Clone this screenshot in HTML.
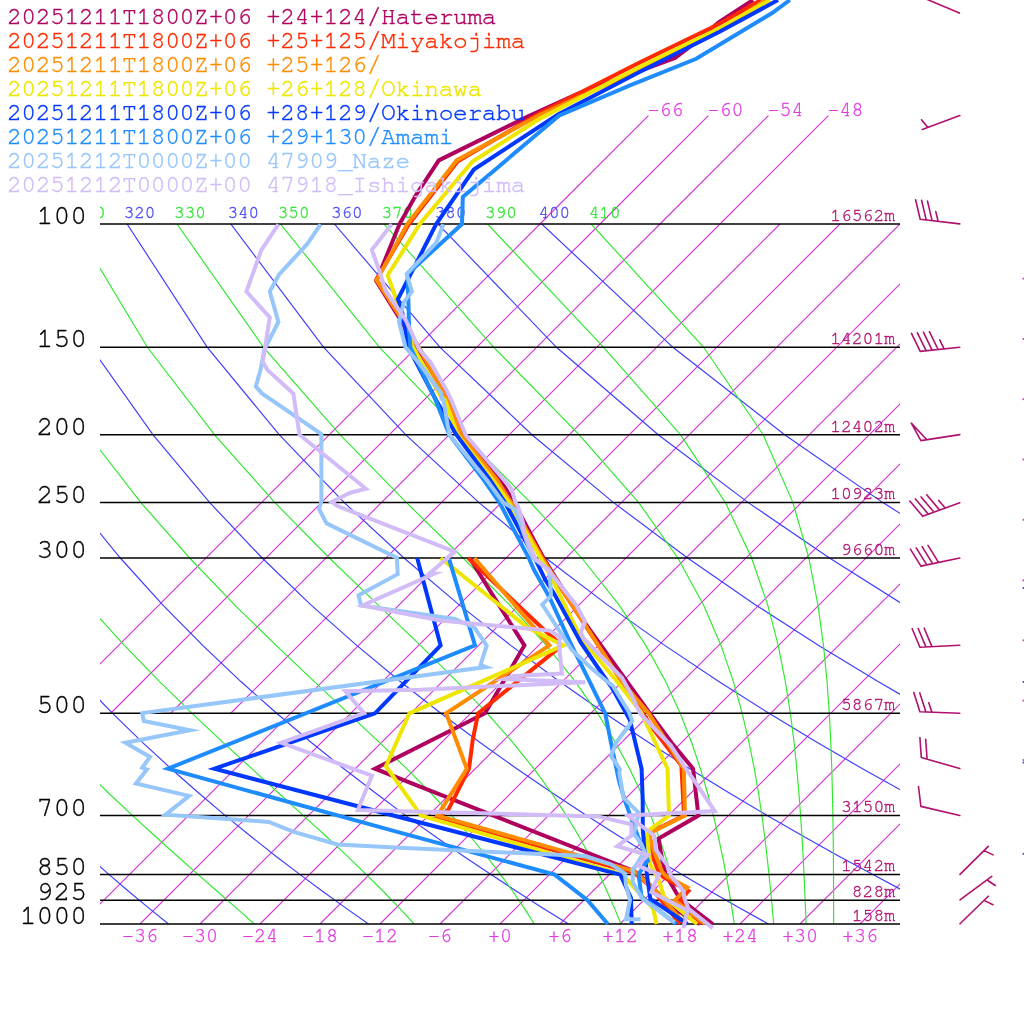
<!DOCTYPE html><html><head><meta charset="utf-8"><title>Skew-T</title><style>html,body{margin:0;padding:0;background:#fff;width:1024px;height:1024px;overflow:hidden}svg{display:block}</style></head><body>
<svg width="1024" height="1024" viewBox="0 0 1024 1024" font-family="FreeMono, 'Liberation Mono', 'Courier New', monospace">
<rect width="1024" height="1024" fill="#fff"/>
<defs><clipPath id="c"><rect x="100" y="0" width="800" height="924"/></clipPath><clipPath id="c2"><rect x="100" y="224" width="800" height="700"/></clipPath></defs>
<g clip-path="url(#c2)"><path d="M80.00 924L779.99 224M140.00 924L839.99 224M200.00 924L899.99 224M260.00 924L959.99 224M320.00 924L1019.99 224M380.00 924L1079.99 224M440.00 924L1139.99 224M500.00 924L1199.99 224M560.00 924L1259.99 224M620.00 924L1319.99 224M680.00 924L1379.99 224M740.00 924L1439.99 224M800.00 924L1499.99 224M860.00 924L1559.99 224M50.72 713.28L539.99 224M110.72 713.28L599.99 224M170.72 713.28L659.99 224M230.72 713.28L719.99 224" stroke="#d632d6" stroke-width="1.15" fill="none"/>
<path d="M168.5 924.0L149.2 908.4L129.4 892.0L109.1 874.6L88.3 856.2L66.8 836.5L44.6 815.6L21.8 793.0L-1.8 768.7L-26.2 742.3L-51.5 713.3L-77.9 681.3L-105.2 645.4L-133.7 604.9L-163.4 558.0L-194.3 502.6L-226.1 434.7L-258.2 347.3L-287.5 224.0M368.5 924.0L346.3 908.4L323.5 892.0L300.1 874.6L275.9 856.2L251.0 836.5L225.3 815.6L198.7 793.0L171.1 768.7L142.4 742.3L112.6 713.3L81.4 681.3L48.8 645.4L14.5 604.9L-21.6 558.0L-59.6 502.6L-99.8 434.7L-141.8 347.3L-183.9 224.0M568.5 924.0L543.4 908.4L517.6 892.0L491.0 874.6L463.6 856.2L435.2 836.5L405.9 815.6L375.5 793.0L343.9 768.7L311.0 742.3L276.7 713.3L240.6 681.3L202.7 645.4L162.7 604.9L120.3 558.0L75.0 502.6L26.5 434.7L-25.4 347.3L-80.2 224.0M768.5 924.0L740.5 908.4L711.7 892.0L681.9 874.6L651.2 856.2L619.5 836.5L586.6 815.6L552.4 793.0L516.8 768.7L479.7 742.3L440.8 713.3L399.9 681.3L356.7 645.4L310.9 604.9L262.1 558.0L209.7 502.6L152.9 434.7L91.0 347.3L23.5 224.0M968.5 924.0L937.6 908.4L905.7 892.0L872.9 874.6L838.9 856.2L803.7 836.5L767.2 815.6L729.3 793.0L689.7 768.7L648.3 742.3L604.9 713.3L559.1 681.3L510.7 645.4L459.2 604.9L404.0 558.0L344.3 502.6L279.2 434.7L207.3 347.3L127.1 224.0M1168.5 924.0L1134.7 908.4L1099.8 892.0L1063.8 874.6L1026.6 856.2L988.0 836.5L947.9 815.6L906.1 793.0L862.5 768.7L816.9 742.3L769.0 713.3L718.4 681.3L664.7 645.4L607.4 604.9L545.8 558.0L479.0 502.6L405.6 434.7L323.7 347.3L230.8 224.0M1368.5 924.0L1331.8 908.4L1293.9 892.0L1254.7 874.6L1214.2 856.2L1172.2 836.5L1128.5 815.6L1083.0 793.0L1035.4 768.7L985.5 742.3L933.1 713.3L877.6 681.3L818.7 645.4L755.6 604.9L687.6 558.0L613.6 502.6L531.9 434.7L440.1 347.3L334.4 224.0M1568.5 924.0L1528.9 908.4L1488.0 892.0L1445.7 874.6L1401.9 856.2L1356.4 836.5L1309.1 815.6L1259.8 793.0L1208.3 768.7L1154.2 742.3L1097.2 713.3L1036.8 681.3L972.6 645.4L903.8 604.9L829.5 558.0L748.3 502.6L658.2 434.7L556.5 347.3L438.1 224.0M1768.5 924.0L1726.0 908.4L1682.0 892.0L1636.6 874.6L1589.5 856.2L1540.7 836.5L1489.8 815.6L1436.7 793.0L1381.1 768.7L1322.8 742.3L1261.3 713.3L1196.1 681.3L1126.6 645.4L1052.0 604.9L971.3 558.0L882.9 502.6L784.6 434.7L672.9 347.3L541.8 224.0" stroke="#3c3cff" stroke-width="1.15" fill="none"/>
<path d="M-237.2 224.0L-201.4 347.3L-164.2 434.7L-128.1 502.6L-93.5 558.0L-60.6 604.9L-29.1 645.4L0.9 681.3L29.6 713.3L57.0 742.3L83.3 768.7L108.5 793.0L132.6 815.6L155.5 836.5L177.4 856.2L198.2 874.6L218.0 892.0L236.7 908.4L254.3 924.0M-133.6 224.0L-85.1 347.3L-38.0 434.7L6.4 502.6L48.2 558.0L87.4 604.9L124.4 645.4L159.3 681.3L192.1 713.3L222.9 742.3L251.8 768.7L278.6 793.0L303.4 815.6L326.3 836.5L347.3 856.2L366.4 874.6L383.9 892.0L399.7 908.4L414.2 924.0M-30.1 224.0L31.2 347.3L88.2 434.7L140.9 502.6L189.6 558.0L234.6 604.9L276.1 645.4L314.1 681.3L348.5 713.3L379.3 742.3L406.7 768.7L430.8 793.0L451.9 815.6L470.3 836.5L486.5 856.2L500.7 874.6L513.3 892.0L524.4 908.4L534.3 924.0M73.4 224.0L147.4 347.3L214.4 434.7L274.9 502.6L329.4 558.0L378.0 604.9L420.4 645.4L456.7 681.3L487.2 713.3L512.7 742.3L533.9 768.7L551.6 793.0L566.5 815.6L579.1 836.5L589.9 856.2L599.3 874.6L607.4 892.0L614.6 908.4L620.9 924.0M177.0 224.0L263.6 347.3L339.9 434.7L406.5 502.6L463.1 558.0L509.5 604.9L546.3 645.4L575.1 681.3L597.6 713.3L615.3 742.3L629.6 768.7L641.1 793.0L650.7 815.6L658.7 836.5L665.5 856.2L671.4 874.6L676.5 892.0L681.0 908.4L685.0 924.0M280.5 224.0L379.5 347.3L463.1 434.7L530.6 502.6L581.8 558.0L619.0 604.9L645.8 645.4L665.5 681.3L680.2 713.3L691.5 742.3L700.4 768.7L707.6 793.0L713.4 815.6L718.3 836.5L722.5 856.2L726.1 874.6L729.2 892.0L731.9 908.4L734.3 924.0M384.1 224.0L493.8 347.3L579.0 434.7L638.7 502.6L677.8 558.0L703.5 604.9L721.0 645.4L733.3 681.3L742.2 713.3L749.0 742.3L754.3 768.7L758.5 793.0L761.9 815.6L764.7 836.5L767.0 856.2L769.0 874.6L770.8 892.0L772.3 908.4L773.7 924.0M487.6 224.0L603.6 347.3L680.4 434.7L725.4 502.6L751.6 558.0L767.7 604.9L778.2 645.4L785.3 681.3L790.4 713.3L794.1 742.3L796.8 768.7L798.9 793.0L800.6 815.6L802.0 836.5L803.1 856.2L804.0 874.6L804.8 892.0L805.5 908.4L806.1 924.0M591.2 224.0L703.7 347.3L763.2 434.7L792.9 502.6L808.8 558.0L817.9 604.9L823.5 645.4L827.0 681.3L829.3 713.3L830.8 742.3L831.8 768.7L832.4 793.0L832.9 815.6L833.2 836.5L833.4 856.2L833.5 874.6L833.6 892.0L833.6 908.4L833.7 924.0" stroke="#2ee82e" stroke-width="1.15" fill="none"/>
</g>
<path d="M539.99 224L648.42 115.58M599.99 224L708.42 115.58M659.99 224L768.42 115.58M719.99 224L828.42 115.58" stroke="#d632d6" stroke-width="1.15" fill="none"/>
<text x="647.6" y="116.1" font-size="20" fill="#e03ce0" stroke="#e03ce0" stroke-width="0.35">-66</text>
<text x="707.6" y="116.1" font-size="20" fill="#e03ce0" stroke="#e03ce0" stroke-width="0.35">-60</text>
<text x="767.6" y="116.1" font-size="20" fill="#e03ce0" stroke="#e03ce0" stroke-width="0.35">-54</text>
<text x="827.6" y="116.1" font-size="20" fill="#e03ce0" stroke="#e03ce0" stroke-width="0.35">-48</text>
<g clip-path="url(#c)">
<text x="74.0" y="217.5" font-size="17.6" fill="#30e830" stroke="#30e830" stroke-width="0.35">310</text>
<text x="123.7" y="217.5" font-size="17.6" fill="#4848ff" stroke="#4848ff" stroke-width="0.35">320</text>
<text x="174.1" y="217.5" font-size="17.6" fill="#30e830" stroke="#30e830" stroke-width="0.35">330</text>
<text x="227.4" y="217.5" font-size="17.6" fill="#4848ff" stroke="#4848ff" stroke-width="0.35">340</text>
<text x="277.8" y="217.5" font-size="17.6" fill="#30e830" stroke="#30e830" stroke-width="0.35">350</text>
<text x="331.0" y="217.5" font-size="17.6" fill="#4848ff" stroke="#4848ff" stroke-width="0.35">360</text>
<text x="381.5" y="217.5" font-size="17.6" fill="#30e830" stroke="#30e830" stroke-width="0.35">370</text>
<text x="434.7" y="217.5" font-size="17.6" fill="#4848ff" stroke="#4848ff" stroke-width="0.35">380</text>
<text x="485.1" y="217.5" font-size="17.6" fill="#30e830" stroke="#30e830" stroke-width="0.35">390</text>
<text x="538.4" y="217.5" font-size="17.6" fill="#4848ff" stroke="#4848ff" stroke-width="0.35">400</text>
<text x="588.8" y="217.5" font-size="17.6" fill="#30e830" stroke="#30e830" stroke-width="0.35">410</text>
</g>
<line x1="100" y1="224.01" x2="900" y2="224.01" stroke="#000" stroke-width="1.5"/>
<text x="87" y="224.0" font-size="28" text-anchor="end" fill="#000" stroke="#000" stroke-width="0.35">100</text>
<line x1="100" y1="347.28" x2="900" y2="347.28" stroke="#000" stroke-width="1.5"/>
<text x="87" y="347.3" font-size="28" text-anchor="end" fill="#000" stroke="#000" stroke-width="0.35">150</text>
<line x1="100" y1="434.73" x2="900" y2="434.73" stroke="#000" stroke-width="1.5"/>
<text x="87" y="434.7" font-size="28" text-anchor="end" fill="#000" stroke="#000" stroke-width="0.35">200</text>
<line x1="100" y1="502.57" x2="900" y2="502.57" stroke="#000" stroke-width="1.5"/>
<text x="87" y="502.6" font-size="28" text-anchor="end" fill="#000" stroke="#000" stroke-width="0.35">250</text>
<line x1="100" y1="557.99" x2="900" y2="557.99" stroke="#000" stroke-width="1.5"/>
<text x="87" y="558.0" font-size="28" text-anchor="end" fill="#000" stroke="#000" stroke-width="0.35">300</text>
<line x1="100" y1="713.28" x2="900" y2="713.28" stroke="#000" stroke-width="1.5"/>
<text x="87" y="713.3" font-size="28" text-anchor="end" fill="#000" stroke="#000" stroke-width="0.35">500</text>
<line x1="100" y1="815.57" x2="900" y2="815.57" stroke="#000" stroke-width="1.5"/>
<text x="87" y="815.6" font-size="28" text-anchor="end" fill="#000" stroke="#000" stroke-width="0.35">700</text>
<line x1="100" y1="874.59" x2="900" y2="874.59" stroke="#000" stroke-width="1.5"/>
<text x="87" y="874.6" font-size="28" text-anchor="end" fill="#000" stroke="#000" stroke-width="0.35">850</text>
<line x1="100" y1="900.30" x2="900" y2="900.30" stroke="#000" stroke-width="1.5"/>
<text x="87" y="900.3" font-size="28" text-anchor="end" fill="#000" stroke="#000" stroke-width="0.35">925</text>
<line x1="100" y1="924.00" x2="900" y2="924.00" stroke="#000" stroke-width="1.5"/>
<text x="87" y="924.0" font-size="28" text-anchor="end" fill="#000" stroke="#000" stroke-width="0.35">1000</text>
<text x="895" y="220.8" font-size="18" text-anchor="end" fill="#b0106e" stroke="#b0106e" stroke-width="0.35">16562m</text>
<text x="895" y="344.1" font-size="18" text-anchor="end" fill="#b0106e" stroke="#b0106e" stroke-width="0.35">14201m</text>
<text x="895" y="431.5" font-size="18" text-anchor="end" fill="#b0106e" stroke="#b0106e" stroke-width="0.35">12402m</text>
<text x="895" y="499.4" font-size="18" text-anchor="end" fill="#b0106e" stroke="#b0106e" stroke-width="0.35">10923m</text>
<text x="895" y="554.8" font-size="18" text-anchor="end" fill="#b0106e" stroke="#b0106e" stroke-width="0.35">9660m</text>
<text x="895" y="710.1" font-size="18" text-anchor="end" fill="#b0106e" stroke="#b0106e" stroke-width="0.35">5867m</text>
<text x="895" y="812.4" font-size="18" text-anchor="end" fill="#b0106e" stroke="#b0106e" stroke-width="0.35">3150m</text>
<text x="895" y="871.4" font-size="18" text-anchor="end" fill="#b0106e" stroke="#b0106e" stroke-width="0.35">1542m</text>
<text x="895" y="897.1" font-size="18" text-anchor="end" fill="#b0106e" stroke="#b0106e" stroke-width="0.35">828m</text>
<text x="895" y="920.8" font-size="18" text-anchor="end" fill="#b0106e" stroke="#b0106e" stroke-width="0.35">158m</text>
<text x="140.0" y="942" font-size="20" text-anchor="middle" fill="#e03ce0" stroke="#e03ce0" stroke-width="0.35">-36</text>
<text x="200.0" y="942" font-size="20" text-anchor="middle" fill="#e03ce0" stroke="#e03ce0" stroke-width="0.35">-30</text>
<text x="260.0" y="942" font-size="20" text-anchor="middle" fill="#e03ce0" stroke="#e03ce0" stroke-width="0.35">-24</text>
<text x="320.0" y="942" font-size="20" text-anchor="middle" fill="#e03ce0" stroke="#e03ce0" stroke-width="0.35">-18</text>
<text x="380.0" y="942" font-size="20" text-anchor="middle" fill="#e03ce0" stroke="#e03ce0" stroke-width="0.35">-12</text>
<text x="440.0" y="942" font-size="20" text-anchor="middle" fill="#e03ce0" stroke="#e03ce0" stroke-width="0.35">-6</text>
<text x="500.0" y="942" font-size="20" text-anchor="middle" fill="#e03ce0" stroke="#e03ce0" stroke-width="0.35">+0</text>
<text x="560.0" y="942" font-size="20" text-anchor="middle" fill="#e03ce0" stroke="#e03ce0" stroke-width="0.35">+6</text>
<text x="620.0" y="942" font-size="20" text-anchor="middle" fill="#e03ce0" stroke="#e03ce0" stroke-width="0.35">+12</text>
<text x="680.0" y="942" font-size="20" text-anchor="middle" fill="#e03ce0" stroke="#e03ce0" stroke-width="0.35">+18</text>
<text x="740.0" y="942" font-size="20" text-anchor="middle" fill="#e03ce0" stroke="#e03ce0" stroke-width="0.35">+24</text>
<text x="800.0" y="942" font-size="20" text-anchor="middle" fill="#e03ce0" stroke="#e03ce0" stroke-width="0.35">+30</text>
<text x="860.0" y="942" font-size="20" text-anchor="middle" fill="#e03ce0" stroke="#e03ce0" stroke-width="0.35">+36</text>
<g fill="none" stroke-width="4" stroke-linejoin="miter" stroke-miterlimit="10">
<path d="M753.0 0.0L719.0 22.0L687.0 49.0L675.0 58.0L577.0 94.2L527.7 116.6L438.8 160.4L416.0 195.0L399.5 224.0L381.1 269.5L376.3 281.0L398.7 317.0L448.8 400.0L463.8 434.7L500.4 480.0L514.0 502.6L543.5 558.0L555.2 577.0L585.6 623.9L648.6 711.6L672.0 743.3L693.1 768.7L698.4 815.6L658.6 838.6L660.9 852.7L665.6 874.6L679.6 898.5L712.8 924.0" stroke="#b0005e"/>
<path d="M469.7 558.0L496.3 600.9L524.4 645.4L485.0 713.3L375.0 768.7L420.0 786.6L634.4 871.2L639.5 874.6L657.1 892.0L668.0 905.0L700.0 924.0" stroke="#b0005e"/>
<path d="M761.0 0.0L719.0 24.0L640.0 62.4L577.0 94.2L540.0 113.0L457.5 161.5L409.0 224.0L376.3 279.7L399.0 315.0L421.0 351.0L448.0 400.0L461.0 434.7L496.0 480.0L511.0 502.6L542.5 558.0L553.0 576.0L585.0 625.0L653.3 729.2L681.4 765.6L684.0 815.6L649.0 833.0L647.0 836.5L650.5 851.0L658.5 871.5L663.0 877.0L688.4 891.0L679.6 900.3L701.0 924.0" stroke="#ff2a00"/>
<path d="M468.1 558.0L541.6 627.5L561.9 645.4L478.1 713.3L472.7 740.0L469.0 768.7L448.0 810.3L437.5 817.0L634.4 873.2L650.0 886.0L680.0 924.0" stroke="#ff2a00"/>
<path d="M766.0 0.0L720.0 30.0L640.0 69.5L540.0 114.7L456.6 160.4L407.3 224.0L376.7 280.1L398.7 314.4L421.0 351.0L447.0 400.0L461.0 434.7L497.0 480.0L511.0 502.6L542.0 558.0L552.8 574.7L620.5 680.0L648.6 713.3L683.8 768.7L685.0 815.6L652.7 831.6L649.5 836.0L654.0 851.0L662.0 871.5L666.0 876.0L687.4 887.6L674.7 900.3L705.0 924.0" stroke="#ff8c00"/>
<path d="M474.4 558.0L549.4 645.4L446.1 713.3L466.8 768.7L437.5 815.6L634.4 871.2L655.0 890.0L685.0 924.0" stroke="#ff8c00"/>
<path d="M770.0 0.0L720.0 28.0L640.0 66.8L540.0 118.6L472.2 161.7L419.8 224.0L387.7 275.3L396.0 298.6L413.2 347.3L440.5 396.0L445.0 400.0L457.5 434.7L493.0 480.0L509.0 502.6L540.5 558.0L549.3 573.5L580.9 638.0L615.8 680.0L641.0 712.0L667.5 768.7L668.5 800.0L669.1 815.6L650.4 829.2L646.9 833.9L650.3 864.6L659.0 880.3L664.0 896.9L697.1 924.0" stroke="#eee600"/>
<path d="M440.6 558.0L527.5 627.5L563.4 645.4L409.4 713.3L385.9 766.2L421.1 815.6L622.6 874.6L653.2 908.6L656.6 924.0" stroke="#eee600"/>
<path d="M778.0 0.0L720.0 31.5L640.0 71.7L558.0 114.5L473.8 169.5L436.2 224.0L397.8 299.4L401.3 307.3L408.3 347.3L436.0 400.0L456.3 434.7L490.0 480.0L505.0 502.6L534.7 558.0L545.4 580.0L554.0 593.4L580.9 642.7L606.4 680.0L612.3 688.2L629.8 719.8L641.6 768.7L642.7 800.0L642.8 829.2L644.5 850.3L646.9 874.6L650.3 898.8L687.4 924.0" stroke="#0038ff"/>
<path d="M417.2 558.0L440.6 645.4L375.0 713.3L214.4 768.7L400.0 817.3L620.3 874.6L631.0 898.0L631.7 924.0" stroke="#0038ff"/>
<path d="M789.9 0.0L772.1 13.0L696.2 58.8L630.0 85.4L558.9 115.7L462.8 196.9L462.0 224.0L407.5 274.0L407.9 284.5L409.0 324.6L410.3 347.3L435.6 400.0L449.3 434.7L483.9 480.0L499.5 502.6L528.8 558.0L534.1 570.0L549.3 597.0L571.6 645.4L590.0 682.3L605.2 713.3L612.3 749.1L618.8 780.0L624.6 799.9L638.7 838.6L648.0 860.9L644.5 864.4L638.6 874.6L641.5 896.9L676.2 924.0" stroke="#1e8cff"/>
<path d="M449.2 559.4L475.0 645.4L167.9 768.7L400.0 832.6L554.7 874.6L587.5 900.3L607.8 924.0" stroke="#1e8cff"/>
<path d="M443.3 224.2L436.5 242.3L406.6 274.0L411.9 291.5L403.9 302.0L399.0 321.7L405.4 347.1L421.0 365.7L441.0 393.0L441.5 398.9L443.4 400.0L449.3 434.7L486.8 480.0L503.4 502.6L515.2 509.3L532.7 558.0L549.3 570.0L551.1 595.8L542.3 604.6L571.6 649.7L590.3 667.3L605.2 680.0L612.9 685.9L628.7 711.6L632.2 721.0L615.8 743.3L611.1 756.2L619.9 769.1L619.3 772.6L623.4 797.6L638.7 812.8L634.0 833.9L641.0 843.3L644.5 851.5L635.2 866.7L632.7 869.5L632.7 882.2L642.5 898.8L674.7 922.3" stroke="#96c6fa"/>
<path d="M320.6 224.4L307.3 243.9L279.2 274.4L269.8 291.6L278.4 322.0L264.4 349.4L260.5 370.0L255.8 386.4L262.0 393.4L321.4 434.0L321.4 501.3L319.0 509.0L326.6 523.4L396.9 557.8L397.7 574.2L358.6 595.3L360.9 605.5L455.0 619.0L474.4 627.5L486.7 645.5L480.5 665.0L486.0 667.1L142.2 713.1L143.8 721.0L190.0 730.3L125.4 742.8L150.0 756.9L142.2 767.8L146.9 769.4L135.9 783.4L189.1 795.9L165.6 814.7L268.8 821.9L293.8 831.9L337.5 844.4L400.0 847.8L585.1 856.0L610.9 864.2L625.0 873.6L626.0 885.0L630.0 900.0L626.0 919.3L640.5 919.3" stroke="#96c6fa"/>
<path d="M391.7 224.2L371.9 249.8L379.8 272.2L385.5 290.6L405.7 320.0L419.1 349.1L430.8 362.7L446.4 390.1L451.3 400.0L465.5 434.7L511.5 488.9L515.5 502.6L518.1 506.4L523.0 523.0L524.0 532.7L534.7 558.0L548.1 570.0L576.3 605.2L585.0 621.6L580.9 632.1L583.3 638.0L622.0 677.8L631.0 694.1L640.4 714.0L670.9 745.6L686.1 769.1L693.8 780.0L714.8 811.1L627.9 815.5L654.3 835.7L656.0 850.0L666.9 864.6L670.8 875.4L683.5 891.0L684.5 898.8L688.4 908.6L712.8 928.1" stroke="#d2bcf8"/>
<path d="M278.4 224.4L261.3 250.2L246.4 291.6L269.8 317.3L262.8 361.9L267.5 370.0L293.3 393.4L299.5 434.8L365.9 488.8L350.3 492.7L331.6 502.0L337.5 506.0L454.7 551.6L429.7 573.4L434.5 573.5L362.5 605.5L440.0 620.5L549.4 630.6L560.3 636.9L558.8 643.1L561.9 673.6L513.4 675.9L504.2 679.1L585.3 682.2L420.0 689.7L345.3 691.2L364.0 713.1L281.2 742.8L371.9 775.6L357.8 810.0L598.0 816.4L631.4 824.3L631.4 835.7L617.3 846.2L648.0 855.0L637.6 865.6L659.1 874.4L651.3 892.0L687.4 910.5L683.5 928.1" stroke="#d2bcf8"/>
</g>
<path d="M959.4 13.1L922.6 -2.5M959.8 115.6L922.3 129.5M927.9 127.4L921.5 119.8M959.8 223.9L920.2 219.2M920.2 219.2L915.6 199.7M926.2 219.9L921.6 200.4M932.1 220.6L927.5 201.1M938.1 221.3L935.8 211.6M959.8 347.3L920.2 351.4M920.2 351.4L911.5 333.4M926.2 350.8L917.4 332.8M932.1 350.2L923.4 332.2M938.1 349.5L929.4 331.6M944.1 348.9L939.7 339.9M959.8 434.6L920.9 440.6M920.9 440.6L911.3 423.1L926.8 439.7ZM959.8 502.7L922.7 516.3M922.7 516.3L909.8 501.0M928.3 514.2L915.4 498.9M934.0 512.2L921.1 496.9M939.6 510.1L926.7 494.8M945.2 508.0L938.8 500.4M959.8 558.0L920.9 566.1M920.9 566.1L910.4 549.1M926.8 564.9L916.2 547.9M932.6 563.7L922.1 546.6M938.5 562.4L928.0 545.4M959.8 645.3L919.9 647.2M919.9 647.2L912.2 628.7M925.9 646.9L918.2 628.5M931.9 646.6L924.2 628.2M959.8 713.3L919.9 711.7M919.9 711.7L913.8 692.6M925.9 711.9L919.8 692.9M931.9 712.2L928.8 702.7M959.8 768.6L921.3 757.5M921.3 757.5L919.9 737.5M927.1 759.2L925.7 739.2M959.8 815.5L920.9 806.4M920.9 806.4L918.5 786.5M960.0 874.4L988.3 846.4M984.0 850.6L993.1 854.9M960.0 899.8L991.8 876.4M987.0 880.0L995.3 885.5M960.0 923.8L988.3 896.2M984.0 900.4L993.0 904.7" stroke="#b0106e" stroke-width="1.6" fill="none" stroke-linecap="round" stroke-linejoin="round"/>
<rect x="1022.6" y="277.7" width="1.4" height="1.8" fill="#d632d6"/>
<rect x="1022.6" y="338.0" width="1.4" height="1.8" fill="#d632d6"/>
<rect x="1022.6" y="398.3" width="1.4" height="1.8" fill="#d632d6"/>
<rect x="1022.6" y="458.6" width="1.4" height="1.8" fill="#d632d6"/>
<rect x="1022.6" y="518.9" width="1.4" height="1.8" fill="#d632d6"/>
<rect x="1022.6" y="579.4" width="1.4" height="1.8" fill="#d632d6"/>
<rect x="1022.6" y="639.4" width="1.4" height="1.8" fill="#d632d6"/>
<rect x="1022.6" y="699.7" width="1.4" height="1.8" fill="#d632d6"/>
<rect x="1022.6" y="759.1" width="1.4" height="1.8" fill="#d632d6"/>
<rect x="1022.6" y="587.1" width="1.4" height="1.8" fill="#3c3cff"/>
<rect x="1022.6" y="681.1" width="1.4" height="1.8" fill="#3c3cff"/>
<rect x="1022.6" y="761.6" width="1.4" height="1.8" fill="#3c3cff"/>
<rect x="1022.6" y="852.9" width="1.4" height="1.8" fill="#3c3cff"/>
<text x="6.9" y="24.2" font-size="24.7" letter-spacing="-0.42" fill="#b0005e" stroke="#b0005e" stroke-width="0.4" xml:space="preserve">20251211T1800Z+06 +24+124/Hateruma</text>
<text x="6.9" y="48.2" font-size="24.7" letter-spacing="-0.42" fill="#ff2a00" stroke="#ff2a00" stroke-width="0.4" xml:space="preserve">20251211T1800Z+06 +25+125/Miyakojima</text>
<text x="6.9" y="72.2" font-size="24.7" letter-spacing="-0.42" fill="#ff8c00" stroke="#ff8c00" stroke-width="0.4" xml:space="preserve">20251211T1800Z+06 +25+126/</text>
<text x="6.9" y="96.2" font-size="24.7" letter-spacing="-0.42" fill="#eee600" stroke="#eee600" stroke-width="0.4" xml:space="preserve">20251211T1800Z+06 +26+128/Okinawa</text>
<text x="6.9" y="120.2" font-size="24.7" letter-spacing="-0.42" fill="#0038ff" stroke="#0038ff" stroke-width="0.4" xml:space="preserve">20251211T1800Z+06 +28+129/Okinoerabu</text>
<text x="6.9" y="144.2" font-size="24.7" letter-spacing="-0.42" fill="#1e8cff" stroke="#1e8cff" stroke-width="0.4" xml:space="preserve">20251211T1800Z+06 +29+130/Amami</text>
<text x="6.9" y="168.2" font-size="24.7" letter-spacing="-0.42" fill="#96c6fa" stroke="#96c6fa" stroke-width="0.4" xml:space="preserve">20251212T0000Z+00 47909_Naze</text>
<text x="6.9" y="192.2" font-size="24.7" letter-spacing="-0.42" fill="#d2bcf8" stroke="#d2bcf8" stroke-width="0.4" xml:space="preserve">20251212T0000Z+00 47918_Ishigakijima</text>
</svg></body></html>
